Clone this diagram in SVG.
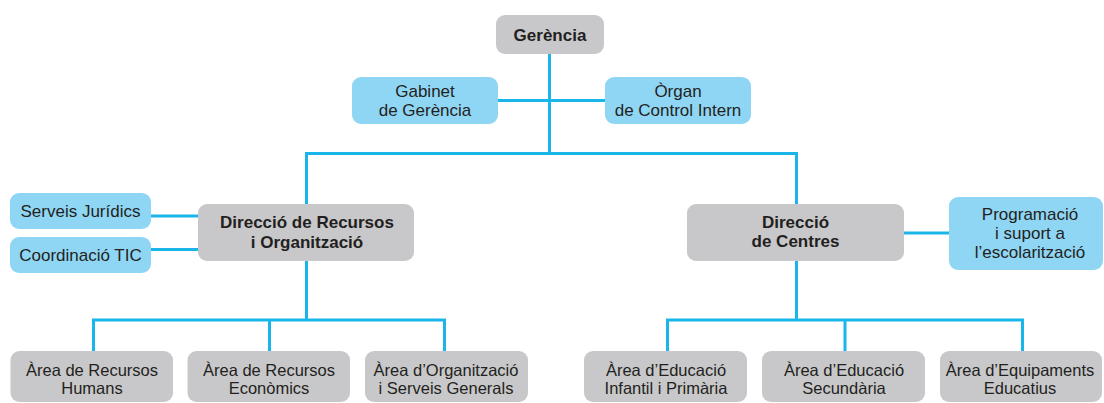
<svg xmlns="http://www.w3.org/2000/svg" width="1104" height="403" viewBox="0 0 1104 403">
<style>
.g{fill:#c8c8ca}
.b{fill:#8fd6f5}
.t{font-family:"Liberation Sans",Arial,sans-serif;font-size:17px;fill:#231f20;text-anchor:middle}
.tb{font-family:"Liberation Sans",Arial,sans-serif;font-size:17px;font-weight:bold;fill:#231f20;text-anchor:middle}
.ts{font-family:"Liberation Sans",Arial,sans-serif;font-size:16.5px;fill:#231f20;text-anchor:middle}
.c{fill:none;stroke:#1ab6ea;stroke-width:3}
</style>
<rect width="1104" height="403" fill="#ffffff"/>
<g id="connectors">
<path class="c" d="M549.5 54V153"/>
<path class="c" d="M498 100.5H605"/>
<path class="c" d="M306.5 204V153.5H796.5V204"/>
<path class="c" d="M151 216H198M151 249.5H198"/>
<path class="c" d="M904 233H949"/>
<path class="c" d="M306.5 261V320"/>
<path class="c" d="M93.5 351V320H444.5V351M269.5 320V351"/>
<path class="c" d="M796.5 261V320"/>
<path class="c" d="M667.5 351V320H1022.5V351M845 320V351"/>
</g>
<g id="gerencia"><rect class="g" x="496" y="15" width="108" height="39" rx="9"/><text class="tb" x="550" y="41">Gerència</text></g>
<g id="gabinet"><rect class="b" x="352" y="77" width="146" height="47" rx="9"/><text class="t" x="425" y="97">Gabinet</text><text class="t" x="425" y="116">de Gerència</text></g>
<g id="organ"><rect class="b" x="605" y="77" width="146" height="47" rx="9"/><text class="t" x="678" y="97">Òrgan</text><text class="t" x="678" y="116">de Control Intern</text></g>
<g id="serveis-juridics"><rect class="b" x="10" y="193" width="141" height="36" rx="9"/><text class="t" x="80.5" y="216.5">Serveis Jurídics</text></g>
<g id="coordinacio-tic"><rect class="b" x="10" y="237" width="141" height="36" rx="9"/><text class="t" x="80.5" y="260.5">Coordinació TIC</text></g>
<g id="direccio-recursos"><rect class="g" x="198" y="204" width="216" height="57" rx="9"/><text class="tb" x="307" y="228.3">Direcció de Recursos</text><text class="tb" x="307" y="248.3">i Organització</text></g>
<g id="direccio-centres"><rect class="g" x="687" y="204" width="217" height="57" rx="9"/><text class="tb" x="795.5" y="228.3">Direcció</text><text class="tb" x="795.5" y="246.7">de Centres</text></g>
<g id="programacio"><rect class="b" x="949" y="197" width="154" height="73" rx="9"/><text class="t" x="1030" y="220">Programació</text><text class="t" x="1030" y="239">i suport a</text><text class="t" x="1030" y="257.5">l’escolarització</text></g>
<g id="area-rrhh"><rect class="g" x="10.5" y="351" width="162.5" height="51" rx="9"/><text class="ts" x="92" y="376">Àrea de Recursos</text><text class="ts" x="92" y="394">Humans</text></g>
<g id="area-economics"><rect class="g" x="187.5" y="351" width="162.5" height="51" rx="9"/><text class="ts" x="269" y="376">Àrea de Recursos</text><text class="ts" x="269" y="394">Econòmics</text></g>
<g id="area-organitzacio"><rect class="g" x="365" y="351" width="163" height="51" rx="9"/><text class="ts" x="446" y="376">Àrea d’Organització</text><text class="ts" x="446" y="394">i Serveis Generals</text></g>
<g id="area-infantil"><rect class="g" x="584" y="351" width="163" height="51" rx="9"/><text class="ts" x="666" y="376">Àrea d’Educació</text><text class="ts" x="666" y="394">Infantil i Primària</text></g>
<g id="area-secundaria"><rect class="g" x="762" y="351" width="163" height="51" rx="9"/><text class="ts" x="844" y="376">Àrea d’Educació</text><text class="ts" x="844" y="394">Secundària</text></g>
<g id="area-equipaments"><rect class="g" x="940" y="351" width="162" height="51" rx="9"/><text class="ts" x="1020" y="376">Àrea d’Equipaments</text><text class="ts" x="1020" y="394">Educatius</text></g>
</svg>
